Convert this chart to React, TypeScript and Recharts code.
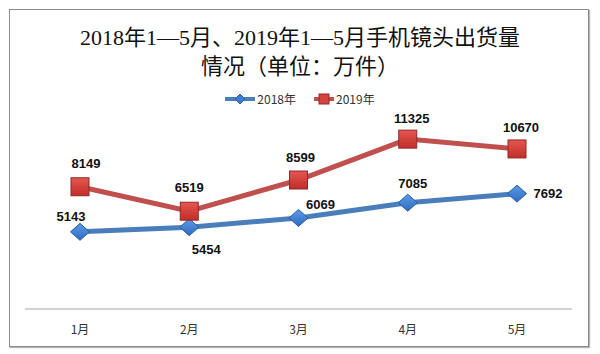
import { LineChart, Line, XAxis, YAxis, LabelList } from 'recharts';

const months = ['1月', '2月', '3月', '4月', '5月'];
const shipments2018 = [5143, 5454, 6069, 7085, 7692];
const shipments2019 = [8149, 6519, 8599, 11325, 10670];

const data = months.map((month, i) => ({
  month,
  y2018: shipments2018[i],
  y2019: shipments2019[i],
}));

const BLUE = '#4a7ebb';
const RED = '#c0504d';

// where each value label sits relative to its marker
const offsets2018 = [[-9, -15], [17, 22], [22, -13], [5, -19], [31, 0]];
const offsets2019 = [[6, -23], [0, -24], [2, -23], [4, -21], [4, -21]];

const labelFont = "'Liberation Sans', Arial, sans-serif";

function makeLabel(offsets: number[][]) {
  return (props: any) => {
    const { x, y, value, index } = props;
    const [dx, dy] = offsets[index] || [0, -20];
    return (
      <text
        x={x + dx}
        y={y + dy}
        textAnchor="middle"
        dominantBaseline="central"
        fontFamily={labelFont}
        fontWeight="bold"
        fontSize={13}
        fill="#111"
      >
        {value}
      </text>
    );
  };
}

function SquareDot(props: any) {
  const { cx, cy, index } = props;
  const s = 18;
  return (
    <rect
      key={`sq-${index}`}
      x={cx - s / 2}
      y={cy - s / 2}
      width={s}
      height={s}
      fill="url(#redGrad)"
      stroke="#8e2a27"
      strokeWidth={1}
    />
  );
}

function DiamondDot(props: any) {
  const { cx, cy, index } = props;
  const w = 9.5;
  const h = 8.5;
  return (
    <path
      key={`dm-${index}`}
      d={`M${cx},${cy - h} L${cx + w},${cy} L${cx},${cy + h} L${cx - w},${cy} Z`}
      fill="url(#blueGrad)"
      stroke="#2c5d9c"
      strokeWidth={1}
    />
  );
}

function LegendItem({ color, label, kind }: { color: string; label: string; kind: 'diamond' | 'square' }) {
  const w = kind === 'diamond' ? 30 : 20;
  return (
    <div style={{ display: 'flex', alignItems: 'center', gap: 2 }}>
      <svg width={w} height={12}>
        <line x1={0} y1={6} x2={w} y2={6} stroke={color} strokeWidth={4} />
        {kind === 'diamond' ? (
          <path d={`M${w / 2},1 L${w / 2 + 5},6 L${w / 2},11 L${w / 2 - 5},6 Z`} fill="#3d7dd6" stroke="#2c5d9c" />
        ) : (
          <rect x={w / 2 - 5} y={1} width={10} height={10} fill="#d6423d" stroke="#8e2a27" />
        )}
      </svg>
      <span>{label}</span>
    </div>
  );
}

export default function App() {
  return (
    <div style={{ position: 'relative', width: 592, height: 346 }}>
      <div
        style={{
          position: 'absolute',
          left: 1,
          top: 1,
          width: 578,
          height: 336,
          border: '1px solid #8a8a8a',
          boxShadow: '1px 1px 1px #b5b5b5',
          background: '#fff',
        }}
      >
        <div
          style={{
            position: 'absolute',
            left: 0,
            top: 13,
            width: 580,
            textAlign: 'center',
            fontFamily: "'Liberation Serif', 'Noto Sans CJK SC', serif",
            fontSize: 22,
            lineHeight: '29px',
            color: '#111',
          }}
        >
          <div>2018年1—5月、2019年1—5月手机镜头出货量</div>
          <div>情况（单位：万件）</div>
        </div>
        <div
          style={{
            position: 'absolute',
            left: 0,
            top: 82,
            width: 580,
            display: 'flex',
            justifyContent: 'center',
            gap: 18,
            fontFamily: "'Noto Sans CJK SC', sans-serif",
            fontSize: 12,
            lineHeight: '14px',
            color: '#333',
          }}
        >
          <LegendItem color={BLUE} label="2018年" kind="diamond" />
          <LegendItem color={RED} label="2019年" kind="square" />
        </div>
        <div style={{ position: 'absolute', left: -1, top: -1 }}>
          <LineChart width={580} height={338} data={data} margin={{ top: 90, right: 17, bottom: 8, left: 16 }}>
            <defs>
              <linearGradient id="redGrad" x1="0" y1="0" x2="0" y2="1">
                <stop offset="0%" stopColor="#e5554f" />
                <stop offset="100%" stopColor="#c22e2a" />
              </linearGradient>
              <linearGradient id="blueGrad" x1="0" y1="0" x2="0" y2="1">
                <stop offset="0%" stopColor="#5a9be8" />
                <stop offset="100%" stopColor="#2f6cc2" />
              </linearGradient>
            </defs>
            <XAxis
              dataKey="month"
              height={30}
              padding={{ left: 55, right: 55 }}
              tickLine={false}
              axisLine={{ stroke: '#a6a6a6', strokeWidth: 1 }}
              tickMargin={10}
              tick={{ fontSize: 12, fill: '#333', fontFamily: "'Noto Sans CJK SC', sans-serif" }}
            />
            <YAxis hide domain={[0, 14000]} />
            <Line
              dataKey="y2018"
              stroke={BLUE}
              strokeWidth={5}
              dot={DiamondDot}
              activeDot={false}
              isAnimationActive={false}
            >
              <LabelList dataKey="y2018" content={makeLabel(offsets2018)} />
            </Line>
            <Line
              dataKey="y2019"
              stroke={RED}
              strokeWidth={5}
              dot={SquareDot}
              activeDot={false}
              isAnimationActive={false}
            >
              <LabelList dataKey="y2019" content={makeLabel(offsets2019)} />
            </Line>
          </LineChart>
        </div>
      </div>
    </div>
  );
}
